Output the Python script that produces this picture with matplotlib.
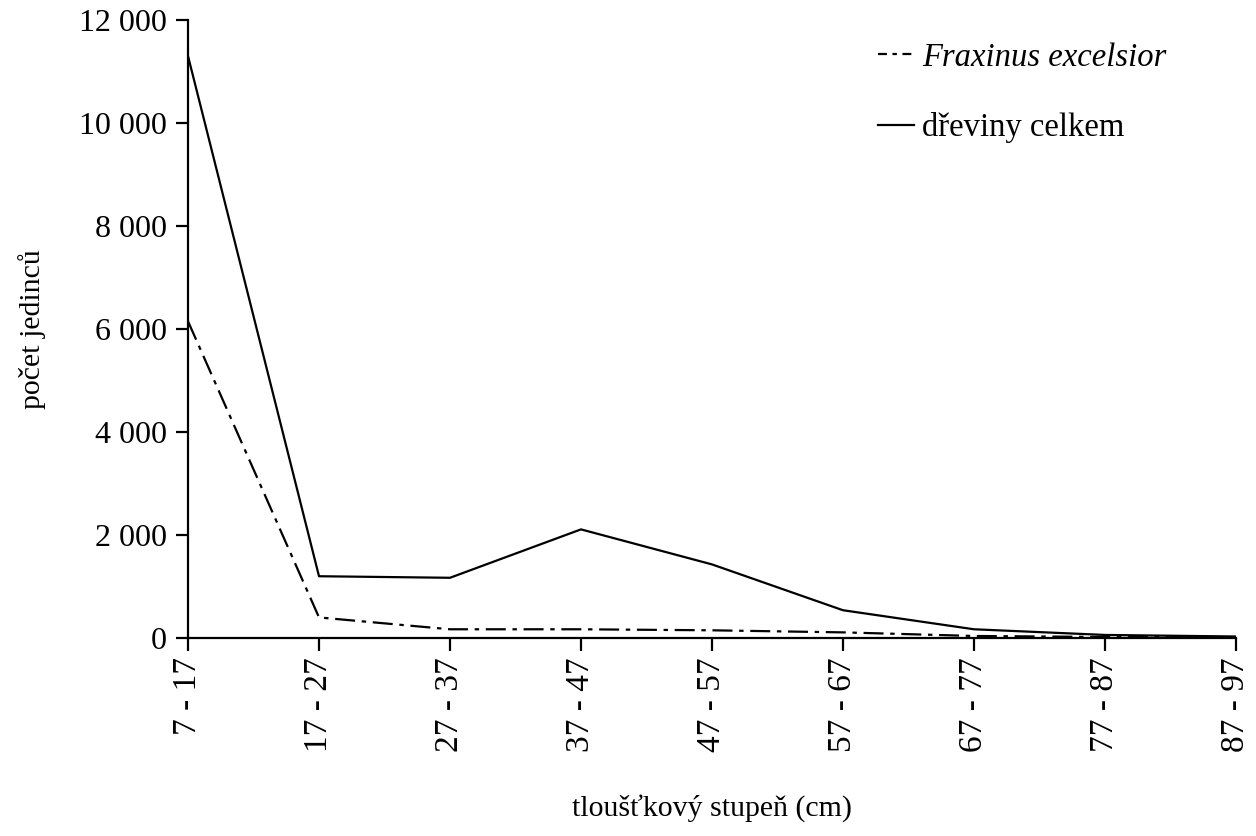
import matplotlib
matplotlib.use("Agg")
import matplotlib.pyplot as plt
from matplotlib.ticker import FuncFormatter

categories = ["7 - 17", "17 - 27", "27 - 37", "37 - 47", "47 - 57",
              "57 - 67", "67 - 77", "77 - 87", "87 - 97"]
fraxinus = [6150, 400, 170, 170, 150, 110, 40, 20, 10]
total = [11300, 1200, 1170, 2110, 1430, 540, 170, 60, 30]
yticks = [0, 2000, 4000, 6000, 8000, 10000, 12000]

plt.rcParams['font.family'] = ['Liberation Serif', 'DejaVu Serif']
plt.rcParams['font.size'] = 22

fig = plt.figure(figsize=(12.56, 8.36), dpi=100)
ax = fig.add_axes([0.1497, 0.2368, 0.8343, 0.7392])

x = list(range(len(categories)))
ax.plot(x, fraxinus, color='black', lw=1.6, linestyle=(0, (9, 3, 2, 3)),
        label='Fraxinus excelsior')
ax.plot(x, total, color='black', lw=1.6, label='dřeviny celkem')

ax.set_xlim(0, len(categories) - 1)
ax.set_ylim(0, 12000)
ax.set_xticks(x)
ax.set_xticklabels(categories, rotation=90, fontsize=24)
ax.set_yticks(yticks)
ax.yaxis.set_major_formatter(FuncFormatter(lambda v, p: f"{int(v):,}".replace(",", " ")))

for s in ['top', 'right']:
    ax.spines[s].set_visible(False)
for s in ['left', 'bottom']:
    ax.spines[s].set_linewidth(1.6)
ax.tick_params(axis='both', direction='out', length=9, width=1.6)
ax.tick_params(axis='y', pad=6, labelsize=23)
ax.tick_params(axis='x', pad=5)

ax.set_ylabel('počet jedinců', fontsize=21.5, labelpad=24)
ax.set_xlabel('tloušťkový stupeň (cm)', fontsize=21.5, labelpad=30)

leg = ax.legend(loc='upper left', bbox_to_anchor=(0.646, 0.985), frameon=False,
                handlelength=1.1, handletextpad=0.25, labelspacing=1.2,
                fontsize=23.5, borderaxespad=0)
leg.get_texts()[0].set_fontstyle('italic')
leg.get_lines()[0].set_linestyle((0, (4, 2.5, 2, 2.5)))

fig.savefig('out.png', dpi=100)
